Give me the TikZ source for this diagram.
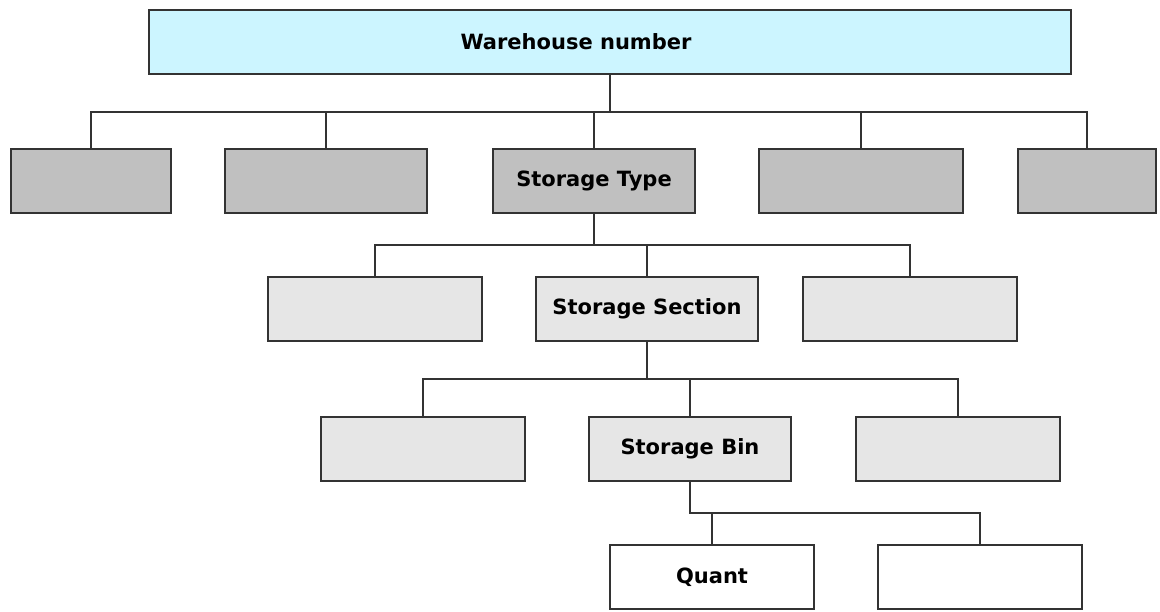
\documentclass[tikz,border=0pt]{standalone}
\usepackage{fontspec}
\setmainfont{DejaVu Sans}
\definecolor{headfill}{HTML}{CCF5FF}
\definecolor{typefill}{HTML}{C0C0C0}
\definecolor{subfill}{HTML}{E6E6E6}
\definecolor{edge}{HTML}{333333}
\tikzset{
  box/.style={draw=edge, line width=2pt, inner sep=0pt, font=\fontsize{21}{24}\selectfont\bfseries},
  headbox/.style={box, fill=headfill},
  typebox/.style={box, fill=typefill},
  subbox/.style={box, fill=subfill},
  leafbox/.style={box, fill=white},
  link/.style={draw=edge, line width=2pt},
  lbl/.style={inner sep=0pt, font=\fontsize{21}{24}\selectfont\bfseries}
}
% style, name, centre x, centre y, width, height
\newcommand{\boxat}[6]{%
  \node[#1, minimum width=#5, minimum height=#6] (#2) at (#3,#4) {};}
\begin{document}
\begin{tikzpicture}[x=1pt, y=-1pt]
\useasboundingbox[fill=white] (0,0) rectangle (1160,612);

% header
\boxat{headbox}{wh}{610}{42.5}{922}{64}
\node[lbl] (whlbl) at (576,42) {Warehouse number};

% storage types
\boxat{typebox}{t1}{91}{181}{160}{64}
\boxat{typebox}{t2}{326}{181}{202}{64}
\node[typebox, minimum width=202, minimum height=64] (st) at (594,181) {Storage Type};
\boxat{typebox}{t4}{861}{181}{204}{64}
\boxat{typebox}{t5}{1087}{181}{138}{64}

% storage sections
\boxat{subbox}{s1}{375}{309}{214}{64}
\node[subbox, minimum width=222, minimum height=64] (ss) at (647,309) {Storage Section};
\boxat{subbox}{s3}{910}{309}{214}{64}

% storage bins
\boxat{subbox}{b1}{423}{449}{204}{64}
\node[subbox, minimum width=202, minimum height=64] (sb) at (690,449) {Storage Bin};
\boxat{subbox}{b3}{958}{449}{204}{64}

% quants
\node[leafbox, minimum width=204, minimum height=64] (qu) at (712,577) {Quant};
\boxat{leafbox}{q2}{980}{577}{204}{64}

% bus levels
\coordinate (bus1) at (0,112);
\coordinate (bus2) at (0,245);
\coordinate (bus3) at (0,379);
\coordinate (bus4) at (0,513);

% header to storage types
\draw[link] (wh.south) -- (wh.south |- bus1);
\draw[link] (t1.north) -- (t1.north |- bus1) -- (t5.north |- bus1) -- (t5.north);
\foreach \n in {t2,st,t4} \draw[link] (\n.north) -- (\n.north |- bus1);

% storage type to sections
\draw[link] (st.south) -- (st.south |- bus2);
\draw[link] (s1.north) -- (s1.north |- bus2) -- (s3.north |- bus2) -- (s3.north);
\draw[link] (ss.north) -- (ss.north |- bus2);

% section to bins
\draw[link] (ss.south) -- (ss.south |- bus3);
\draw[link] (b1.north) -- (b1.north |- bus3) -- (b3.north |- bus3) -- (b3.north);
\draw[link] (sb.north) -- (sb.north |- bus3);

% bin to quants
\draw[link] (sb.south) -- (sb.south |- bus4) -- (q2.north |- bus4) -- (q2.north);
\draw[link] (qu.north) -- (qu.north |- bus4);
\end{tikzpicture}
\end{document}
